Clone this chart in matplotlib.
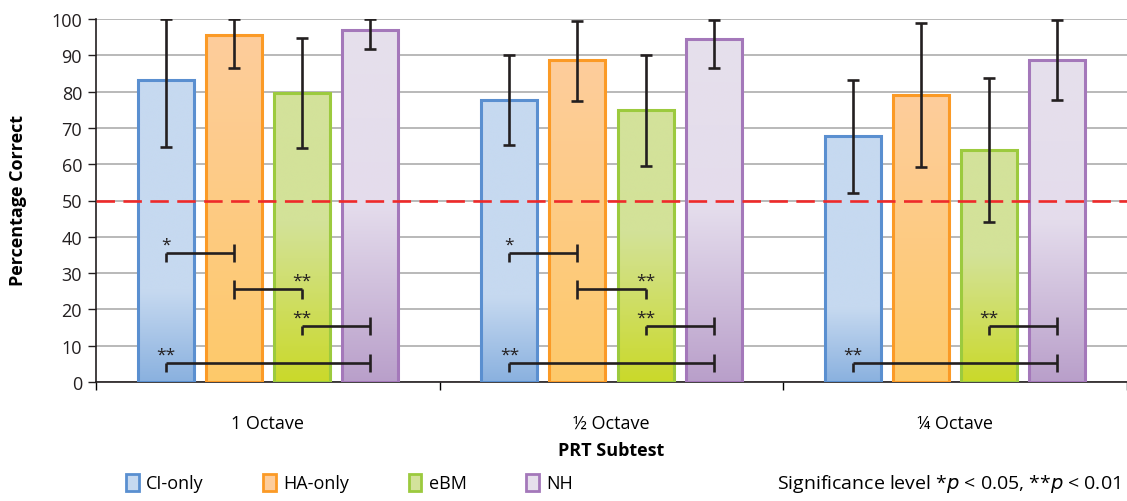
import numpy as np
import matplotlib
matplotlib.use("Agg")
from matplotlib import pyplot as plt
from matplotlib.colors import LinearSegmentedColormap
from matplotlib.patches import Patch

plt.rcParams['font.family'] = ['Open Sans', 'DejaVu Sans']

# data
subtests = ['1 Octave', '\u00bd Octave', '\u00bc Octave']
groups = ['CI-only', 'HA-only', 'eBM', 'NH']
means = {
    'CI-only': [83.3, 77.7, 67.7],
    'HA-only': [95.5, 88.6, 79.1],
    'eBM':     [79.6, 74.9, 63.9],
    'NH':      [97.0, 94.4, 88.7],
}
err_low = {
    'CI-only': [64.7, 65.3, 52.0],
    'HA-only': [86.5, 77.4, 59.3],
    'eBM':     [64.5, 59.6, 44.0],
    'NH':      [91.7, 86.4, 77.8],
}
err_high = {
    'CI-only': [100.0, 90.0, 83.2],
    'HA-only': [100.0, 99.4, 98.8],
    'eBM':     [94.7, 90.2, 83.8],
    'NH':      [100.0, 99.7, 99.7],
}
# significance brackets: subtest index, from group, to group, height, label, side of stars
sig_subtest = [0, 0, 0, 0, 1, 1, 1, 1, 2, 2]
sig_from = [0, 1, 2, 0, 0, 1, 2, 0, 2, 0]
sig_to = [1, 2, 3, 3, 1, 2, 3, 3, 3, 3]
sig_y = [35.5, 25.5, 15.5, 5.3, 35.5, 25.5, 15.5, 5.3, 15.5, 5.3]
sig_label = ['*', '**', '**', '**', '*', '**', '**', '**', '**', '**']
sig_side = ['l', 'r', 'l', 'l', 'l', 'r', 'l', 'l', 'l', 'l']

edge_colors = ['#5a8fd0', '#fb9a26', '#9cca3e', '#a478ba']
grad_stops = [
    [(0.0, '#8ab1df'), (0.3, '#c6d9f0'), (1.0, '#c6d9f0')],
    [(0.0, '#fec96a'), (1.0, '#fdcd9c')],
    [(0.0, '#cad92a'), (0.55, '#d3e298'), (1.0, '#d3e29b')],
    [(0.0, '#b99fca'), (0.5, '#e4dcec'), (1.0, '#e6e0ec')],
]
legend_face = ['#c6d9f0', '#fdcd9c', '#d3e29b', '#e6e0ec']

fig = plt.figure(figsize=(11.27, 5.02), dpi=100)
ax = fig.add_axes([96 / 1127, 119 / 502, 1031 / 1127, 363 / 502])

x = np.arange(len(subtests))
step = 0.198
width = 0.163
grad = np.linspace(0, 1, 256).reshape(-1, 1)

for k, g in enumerate(groups):
    cmap = LinearSegmentedColormap.from_list(g, grad_stops[k])
    xs = x + (k - 1.5) * step
    bars = ax.bar(xs, means[g], width, facecolor='none', edgecolor=edge_colors[k],
                  linewidth=2.2, zorder=3)
    for b in bars:
        x0 = b.get_x()
        h = b.get_height()
        im = ax.imshow(grad, extent=[x0, x0 + width, 0, h], origin='lower', cmap=cmap,
                       aspect='auto', interpolation='bicubic', zorder=2)
        im.set_clip_path(b)
    lo = np.array(means[g]) - np.array(err_low[g])
    hi = np.array(err_high[g]) - np.array(means[g])
    ax.errorbar(xs, means[g], yerr=[lo, hi], fmt='none', ecolor='#231f20',
                elinewidth=1.9, capsize=4.4, capthick=1.9, zorder=5)

ax.axhline(50, color='#ee2a2a', lw=1.9, ls=(0, (7, 3.2)), zorder=4)

tick = 2.5
for s, i, j, y, lab, side in zip(sig_subtest, sig_from, sig_to, sig_y, sig_label, sig_side):
    xa = x[s] + (i - 1.5) * step
    xb = x[s] + (j - 1.5) * step
    ax.plot([xa, xb], [y, y], color='#231f20', lw=1.9, zorder=6, solid_capstyle='butt')
    xs_star = xa if side == 'l' else xb
    xo_full = xb if side == 'l' else xa
    ax.plot([xs_star, xs_star], [y, y - tick], color='#231f20', lw=1.9, zorder=6,
            solid_capstyle='butt')
    ax.plot([xo_full, xo_full], [y - tick, y + tick], color='#231f20', lw=1.9, zorder=6,
            solid_capstyle='butt')
    ax.text(xs_star, y + 2.3, lab, ha='center', va='center', fontsize=12.5,
            color='#231f20', zorder=7)

ax.set_xlim(-0.5, 2.5)
ax.set_ylim(0, 100)
ax.set_yticks(np.arange(0, 101, 10))
ax.tick_params(axis='y', labelsize=13, length=6, width=1, direction='out', pad=4,
               colors='#231f20')
ax.grid(axis='y', color='#a6a6a6', lw=1.1, zorder=0)
ax.set_axisbelow(True)

ax.set_xticks([-0.5, 0.5, 1.5, 2.5])
ax.set_xticklabels([])
ax.tick_params(axis='x', which='major', length=6, width=1, direction='out')
ax.set_xticks(x, minor=True)
ax.set_xticklabels(subtests, minor=True, fontsize=13)
ax.tick_params(axis='x', which='minor', length=0, pad=23)

for side in ['top', 'right']:
    ax.spines[side].set_visible(False)
ax.spines['left'].set_color('#231f20')
ax.spines['bottom'].set_color('#231f20')
ax.spines['left'].set_linewidth(1.2)
ax.spines['bottom'].set_linewidth(1.2)

fig.text(18 / 1127, 1 - 201 / 502, 'Percentage Correct', rotation=90, ha='center',
         va='center', fontsize=13, fontweight='bold')
fig.text(611 / 1127, 1 - 451 / 502, 'PRT Subtest', ha='center', va='center',
         fontsize=13, fontweight='bold')

handles = [Patch(facecolor=legend_face[k], edgecolor=edge_colors[k], linewidth=2)
           for k in range(len(groups))]
fig.legend(handles, groups, loc='center left', bbox_to_anchor=(110 / 1127, 1 - 484 / 502),
           ncol=4, frameon=False, handlelength=0.7, handleheight=1.1, handletextpad=0.4,
           columnspacing=3.3, prop={'size': 13})
fig.text(1120 / 1127, 1 - 484 / 502,
         'Significance level *$\\mathit{p}$ < 0.05, **$\\mathit{p}$ < 0.01',
         ha='right', va='center', fontsize=14)

fig.savefig('out.png', dpi=100)
